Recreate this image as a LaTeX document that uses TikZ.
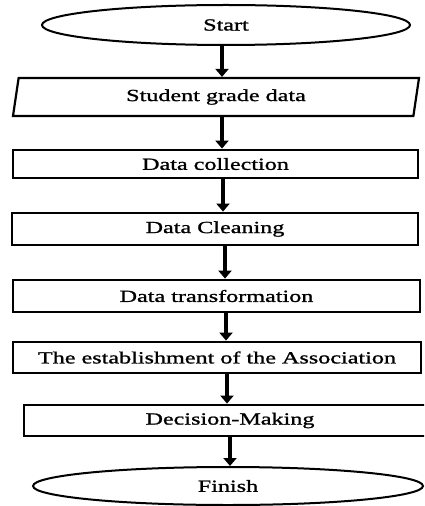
\documentclass[tikz,border=0pt]{standalone}
\usepackage{fontspec}
\setmainfont{Liberation Serif}[FakeStretch=1.42, FakeBold=1.2]
\usetikzlibrary{shapes.geometric,arrows.meta}

\begin{document}
\begin{tikzpicture}[x=1bp,y=-1bp,
  every node/.style={inner sep=0pt, font=\fontsize{17bp}{20bp}\selectfont, text=black},
  terminal/.style={ellipse, draw, line width=2bp},
  iobox/.style={trapezium, trapezium left angle=70, trapezium right angle=110,
                trapezium stretches body, draw, line width=2.2bp},
  procbox/.style={rectangle, draw, line width=2.8bp},
  arr/.style={line width=4bp, -{Triangle[width=13bp,length=8bp]}}]
  \useasboundingbox (0,0) rectangle (424,506);
  \clip (0,0) rectangle (424,506);

  % flow stages
  \node[terminal, minimum width=368bp, minimum height=40bp] (start) at (226,25) {Start};
  \node[iobox, minimum width=406bp, minimum height=38bp] (grades) at (216,97) {Student grade data};
  \node[procbox, minimum width=405bp, minimum height=28bp] (collect) at (215.5,164) {Data collection};
  \node[procbox, minimum width=406bp, minimum height=32bp] (clean) at (215,229) {Data Cleaning};
  \node[procbox, minimum width=407bp, minimum height=32bp] (transform) at (216.5,296) {Data transformation};
  \node[procbox, minimum width=408bp, minimum height=31bp] (assoc) at (217,357.5) {The establishment of the Association};
  \node[procbox, minimum width=412bp, minimum height=31bp] (decide) at (230,420.5) {Decision-Making};
  \node[terminal, minimum width=390bp, minimum height=38bp] (finish) at (228,486) {Finish};

  % vertical guide lines for the arrows
  \coordinate (g1) at (222,0);
  \coordinate (g2) at (222,0);
  \coordinate (g3) at (223,0);
  \coordinate (g4) at (225,0);
  \coordinate (g5) at (226,0);
  \coordinate (g6) at (227,0);
  \coordinate (g7) at (230,0);

  % connectors
  \draw[arr] (start.south -| g1) -- (grades.north -| g1);
  \draw[arr] (grades.south -| g2) -- (collect.north -| g2);
  \draw[arr] (collect.south -| g3) -- (clean.north -| g3);
  \draw[arr] (clean.south -| g4) -- (transform.north -| g4);
  \draw[arr] (transform.south -| g5) -- (assoc.north -| g5);
  \draw[arr] (assoc.south -| g6) -- (decide.north -| g6);
  \draw[arr] (decide.south -| g7) -- (finish.north -| g7);
\end{tikzpicture}
\end{document}
